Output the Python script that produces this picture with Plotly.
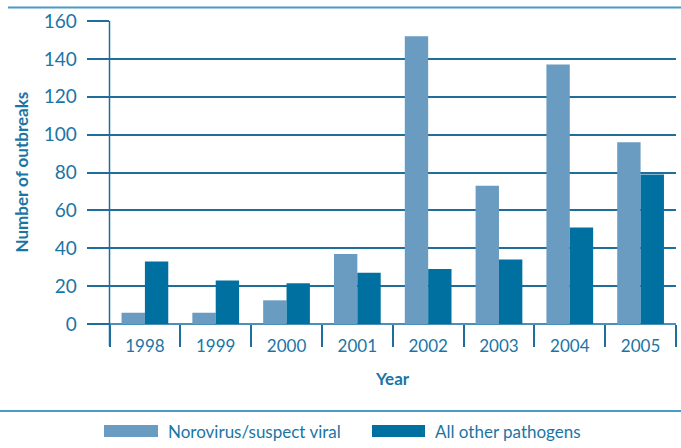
import plotly.graph_objects as go

years = ["1998", "1999", "2000", "2001", "2002", "2003", "2004", "2005"]
norovirus = [6, 6, 12.5, 37, 152, 73, 137, 96]
other = [33, 23, 21.5, 27, 29, 34, 51, 79]
series_names = ["Norovirus/suspect viral", "All other pathogens"]
y_ticks = [0, 20, 40, 60, 80, 100, 120, 140, 160]

LIGHT = "#6a9bc0"
DARK = "#0070a0"
TEXT = "#1a75a5"
GRID = "#1f6d9b"
RULE = "#4a9bc8"
FONT = "Lato"

W, H = 681, 448
PL, PR, PT, PB = 109.5, 676, 21, 324  # plot area in pixels


def fx(p):
    return p / W


def fy(p):
    return 1 - p / H


fig = go.Figure()
fig.add_trace(go.Bar(x=years, y=norovirus, name=series_names[0], marker_color=LIGHT, marker_line_width=0))
fig.add_trace(go.Bar(x=years, y=other, name=series_names[1], marker_color=DARK, marker_line_width=0))

fig.update_layout(
    width=W, height=H,
    margin=dict(l=0, r=0, t=0, b=0, pad=0, autoexpand=False),
    barmode="group", bargap=0.34, bargroupgap=0,
    plot_bgcolor="white", paper_bgcolor="white",
    showlegend=False,
    font=dict(family=FONT, color=TEXT),
    xaxis=dict(
        domain=[fx(PL), fx(PR)],
        type="category", tickson="boundaries", ticks="outside", ticklen=22,
        tickcolor=GRID, tickwidth=1.5, showgrid=False, showline=False,
        tickfont=dict(size=17, color=TEXT), ticklabelstandoff=10,
        zeroline=False, automargin=False,
    ),
    yaxis=dict(
        domain=[fy(PB), fy(PT)],
        range=[0, 160], tickvals=y_ticks, ticks="outside", ticklen=22,
        tickcolor=GRID, tickwidth=1.5, gridcolor=GRID, gridwidth=1.5,
        showline=False, zeroline=True, zerolinecolor="#4a90b8", zerolinewidth=2,
        tickfont=dict(size=19, color=TEXT), ticklabelstandoff=6, automargin=False,
    ),
)

# y-axis vertical line
fig.add_shape(type="line", xref="paper", yref="paper", x0=fx(PL), x1=fx(PL), y0=fy(346), y1=fy(PT),
              line=dict(color=GRID, width=1.5))
# horizontal rules (top and bottom)
for (xa, ya) in [(8, 7.5), (0, 411)]:
    fig.add_shape(type="rect", xref="paper", yref="paper",
                  x0=fx(xa), x1=1, y0=fy(ya + 1), y1=fy(ya - 1),
                  fillcolor=RULE, line_width=0, layer="above")

# axis titles
fig.add_annotation(text="<b>Number of outbreaks</b>", xref="paper", yref="paper",
                   x=fx(21), y=fy((PT + PB) / 2), textangle=-90, showarrow=False,
                   font=dict(size=17, color=TEXT, family=FONT), xanchor="center", yanchor="middle")
fig.add_annotation(text="<b>Year</b>", xref="paper", yref="paper",
                   x=fx((PL + PR) / 2), y=fy(378), showarrow=False,
                   font=dict(size=17, color=TEXT, family=FONT), xanchor="center", yanchor="middle")

# custom legend
for (x0, x1, col, name, tx) in [(104, 158, LIGHT, series_names[0], 166), (372, 425, DARK, series_names[1], 433)]:
    fig.add_shape(type="rect", xref="paper", yref="paper", x0=fx(x0), x1=fx(x1),
                  y0=fy(437), y1=fy(425), fillcolor=col, line_width=0)
    fig.add_annotation(text=name, xref="paper", yref="paper", x=fx(tx), y=fy(431),
                       showarrow=False, xanchor="left", yanchor="middle",
                       font=dict(size=17, color=TEXT, family=FONT))

fig.write_html("out.html", config={"displayModeBar": False},
               post_script="document.body.style.margin='0';document.body.style.padding='0';")
